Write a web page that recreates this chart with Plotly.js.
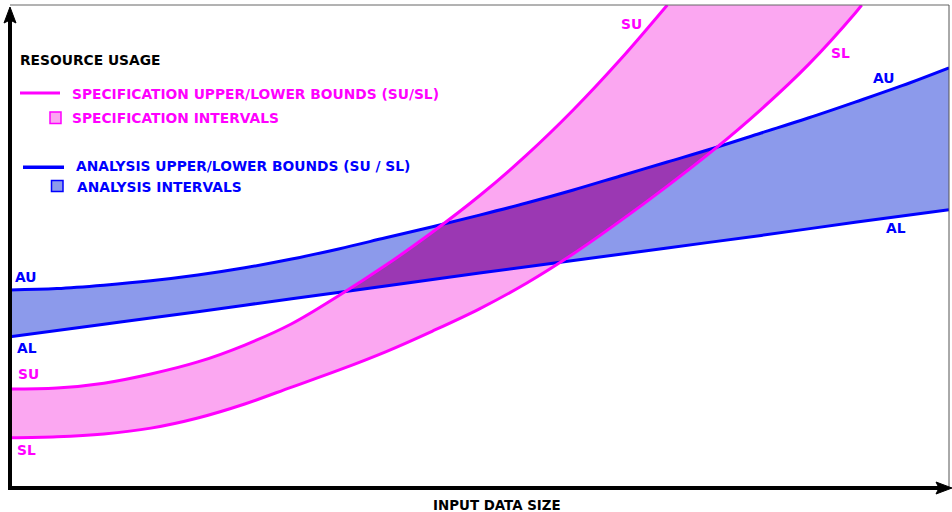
<!DOCTYPE html>
<html>
<head>
<meta charset="utf-8">
<script src="https://cdn.plot.ly/plotly-3.0.1.min.js"></script>
<style>html,body{margin:0;padding:0;background:#fff;}#chart{width:952px;height:512px;}</style>
</head>
<body>
<div id="chart"></div>
<script>
// ---- data (schematic units, 0-100 on both axes) ----
const AU_X = [0, 5, 10, 15, 20, 25, 30, 35, 40, 45, 50, 55, 60, 65, 70, 75, 80, 85, 90, 95, 100];
const AU_Y = [41.0, 41.3, 42.0, 42.9, 44.1, 45.6, 47.4, 49.5, 51.8, 54.1, 56.5, 59.0, 61.7, 64.6, 67.5, 70.4, 73.5, 76.6, 79.9, 83.3, 87.0];
const AL_X = [0, 10, 20, 30, 40, 50, 60, 70, 80, 90, 100];
const AL_Y = [31.3, 33.9, 36.5, 39.2, 41.8, 44.5, 47.1, 49.7, 52.3, 55.0, 57.6];
const SU_X = [0, 5, 10, 15, 20, 25, 30, 35, 40, 45, 50, 55, 60, 65, 70];
const SU_Y = [20.5, 20.7, 21.7, 23.6, 26.1, 29.6, 34.0, 39.8, 46.1, 53.0, 60.5, 68.9, 78.3, 88.7, 100];
const SL_X = [0, 5, 10, 15, 20, 25, 30, 35, 40, 45, 50, 55, 60, 65, 70, 75, 80, 85, 90, 90.7];
const SL_Y = [10.4, 10.6, 11.2, 12.4, 14.5, 17.4, 20.9, 24.4, 28.2, 32.5, 37.1, 42.4, 48.5, 55.3, 62.5, 70.1, 78.4, 87.6, 98.3, 100];

const CURVE_LABELS_LEFT = ["AU", "AL", "SU", "SL"];
const CURVE_LABELS_RIGHT = ["SU", "SL", "AU", "AL"];
const LEGEND_TITLE = "RESOURCE USAGE";
const LEGEND_TEXTS = [
  "SPECIFICATION UPPER/LOWER BOUNDS (SU/SL)",
  "SPECIFICATION INTERVALS",
  "ANALYSIS UPPER/LOWER BOUNDS (SU / SL)",
  "ANALYSIS INTERVALS"
];
const X_TITLE = "INPUT DATA SIZE";

// ---- styles ----
const MAGENTA = "#ff00ff", BLUE = "#0000ff";
const PINK_FILL = "#fba7f1", BLUE_FILL = "#8c9aeb", PURPLE_FILL = "#9b38b3";
const FONT = {family: "DejaVu Sans, sans-serif", size: 13.8, weight: "bold"};

// ---- overlap region (intersection of both bands) ----
function interp(xs, ys, x) {
  if (x < xs[0]) return null;
  if (x > xs[xs.length - 1]) return Infinity; // curve has left the chart through the top
  for (let i = 0; i < xs.length - 1; i++) {
    if (x >= xs[i] && x <= xs[i + 1]) {
      const t = (x - xs[i]) / (xs[i + 1] - xs[i]);
      return ys[i] + t * (ys[i + 1] - ys[i]);
    }
  }
  return null;
}
const ox = [], lo = [], hi = [];
for (let k = 0; k <= 1000; k++) {
  const x = k / 10;
  const a = interp(AL_X, AL_Y, x), b = interp(SL_X, SL_Y, x);
  const c = interp(AU_X, AU_Y, x), d = interp(SU_X, SU_Y, x);
  if (a === null || b === null || c === null || d === null) continue;
  const l = Math.max(a, b), h = Math.min(c, d);
  if (isFinite(l) && isFinite(h) && h > l) { ox.push(x); lo.push(l); hi.push(h); }
}
const polyX = ox.concat(ox.slice().reverse());
const polyY = lo.concat(hi.slice().reverse());

const spline = {shape: "spline", smoothing: 1};
const traces = [
  {x: AL_X, y: AL_Y, mode: "lines", line: Object.assign({width: 0}, spline), hoverinfo: "skip"},
  {x: AU_X, y: AU_Y, mode: "lines", fill: "tonexty", fillcolor: BLUE_FILL, line: Object.assign({width: 0}, spline), hoverinfo: "skip"},
  {x: SL_X, y: SL_Y, mode: "lines", line: Object.assign({width: 0}, spline), hoverinfo: "skip"},
  {x: SU_X, y: SU_Y, mode: "lines", fill: "tonexty", fillcolor: PINK_FILL, line: Object.assign({width: 0}, spline), hoverinfo: "skip"},
  {x: polyX, y: polyY, mode: "lines", fill: "toself", fillcolor: PURPLE_FILL, line: {width: 0}, hoverinfo: "skip"},
  {x: AL_X, y: AL_Y, mode: "lines", line: Object.assign({width: 3, color: BLUE}, spline)},
  {x: AU_X, y: AU_Y, mode: "lines", line: Object.assign({width: 3, color: BLUE}, spline)},
  {x: SL_X, y: SL_Y, mode: "lines", line: Object.assign({width: 3, color: MAGENTA}, spline)},
  {x: SU_X, y: SU_Y, mode: "lines", line: Object.assign({width: 3, color: MAGENTA}, spline)}
];

// pixel -> paper helpers (plot area spans x 10..949, y 5..488)
const PX = x => (x - 10) / 939;
const PY = y => (488 - y) / 483;

function label(text, x, y, color, anchor) {
  return {text: text, xref: "paper", yref: "paper", x: PX(x), y: PY(y),
    xanchor: anchor || "left", yanchor: "middle", showarrow: false,
    borderpad: 0, borderwidth: 0, font: Object.assign({}, FONT, {color: color})};
}

const annotations = [
  label(LEGEND_TITLE, 20, 60, "#000"),
  label(LEGEND_TEXTS[0], 72, 94, MAGENTA),
  label(LEGEND_TEXTS[1], 72, 117.5, MAGENTA),
  label(LEGEND_TEXTS[2], 76, 166.5, BLUE),
  label(LEGEND_TEXTS[3], 77, 187, BLUE),
  label(CURVE_LABELS_LEFT[0], 15, 277, BLUE),
  label(CURVE_LABELS_LEFT[1], 17, 347.5, BLUE),
  label(CURVE_LABELS_LEFT[2], 17.5, 373.5, MAGENTA),
  label(CURVE_LABELS_LEFT[3], 17, 450, MAGENTA),
  label(CURVE_LABELS_RIGHT[0], 620.5, 24.3, MAGENTA),
  label(CURVE_LABELS_RIGHT[1], 830.5, 52.7, MAGENTA),
  label(CURVE_LABELS_RIGHT[2], 872.5, 78, BLUE),
  label(CURVE_LABELS_RIGHT[3], 886, 228.3, BLUE),
  Object.assign(label(X_TITLE, 496.5, 505, "#000", "center"), {font: Object.assign({}, FONT, {color: "#000", size: 13.4})})
];

function pathP(pts) {
  return "M" + pts.map(p => PX(p[0]) + "," + PY(p[1])).join(" L") + " Z";
}
const shapes = [
  // frame top/right
  {type: "line", xref: "paper", yref: "paper", x0: PX(10), y0: PY(5), x1: PX(949), y1: PY(5), line: {color: "#666", width: 1}},
  {type: "line", xref: "paper", yref: "paper", x0: PX(949), y0: PY(5), x1: PX(949), y1: PY(488), line: {color: "#555", width: 1}},
  // axes
  {type: "line", xref: "paper", yref: "paper", x0: PX(10), y0: PY(490), x1: PX(10), y1: PY(18), line: {color: "#000", width: 4}},
  {type: "line", xref: "paper", yref: "paper", x0: PX(8), y0: PY(488), x1: PX(942), y1: PY(488), line: {color: "#000", width: 4}},
  {type: "path", xref: "paper", yref: "paper", path: pathP([[10, 7], [16, 23], [10, 20], [4, 23]]), fillcolor: "#000", line: {color: "#000", width: 1}},
  {type: "path", xref: "paper", yref: "paper", path: pathP([[952, 488], [936, 482], [939, 488], [936, 494]]), fillcolor: "#000", line: {color: "#000", width: 1}},
  // legend keys
  {type: "line", xref: "paper", yref: "paper", x0: PX(20), y0: PY(93), x1: PX(60), y1: PY(93), line: {color: MAGENTA, width: 3}},
  {type: "rect", xref: "paper", yref: "paper", x0: PX(50), y0: PY(112), x1: PX(61), y1: PY(123.5), fillcolor: PINK_FILL, line: {color: MAGENTA, width: 1.5}},
  {type: "line", xref: "paper", yref: "paper", x0: PX(23), y0: PY(167.3), x1: PX(64), y1: PY(167.3), line: {color: BLUE, width: 3.5}},
  {type: "rect", xref: "paper", yref: "paper", x0: PX(51.5), y0: PY(180.5), x1: PX(63), y1: PY(191.5), fillcolor: BLUE_FILL, line: {color: BLUE, width: 1.5}}
];

const layout = {
  width: 952, height: 512,
  margin: {l: 10, r: 3, t: 5, b: 24, pad: 0},
  paper_bgcolor: "#fff", plot_bgcolor: "#fff",
  showlegend: false,
  xaxis: {range: [0, 100], visible: false, fixedrange: true},
  yaxis: {range: [0, 100], visible: false, fixedrange: true},
  annotations: annotations,
  shapes: shapes
};

Plotly.newPlot("chart", traces, layout, {staticPlot: true, displayModeBar: false});
</script>
</body>
</html>
